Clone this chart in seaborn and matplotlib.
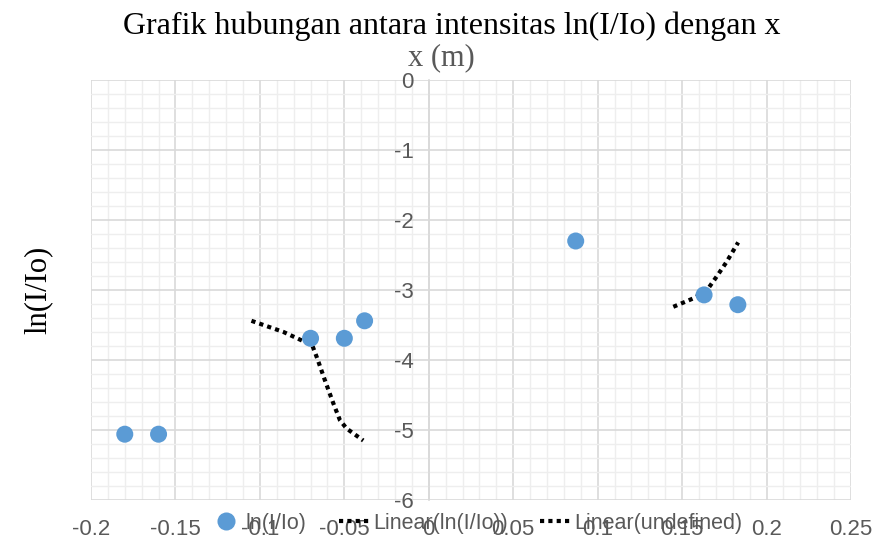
import matplotlib
matplotlib.use("Agg")
import matplotlib.pyplot as plt
import seaborn as sns
import pandas as pd
from matplotlib.ticker import MultipleLocator, FuncFormatter
from matplotlib.lines import Line2D

# data
x_m = [-0.18, -0.16, -0.07, -0.05, -0.038, 0.087, 0.163, 0.183]
ln_i_io = [-5.06, -5.06, -3.69, -3.69, -3.44, -2.30, -3.07, -3.21]

trend1_x = [-0.105, -0.086, -0.069, -0.066, -0.0615, -0.0565, -0.0526, -0.0486, -0.0388]
trend1_y = [-3.44, -3.60, -3.79, -3.98, -4.29, -4.62, -4.86, -4.98, -5.15]

trend2_x = [0.1448, 0.1566, 0.1645, 0.1704, 0.1763, 0.1832]
trend2_y = [-3.24, -3.12, -3.01, -2.81, -2.60, -2.32]

title = "Grafik hubungan antara intensitas ln(I/Io) dengan x"
x_label = "x (m)"
y_label = "ln(I/Io)"
legend_labels = ["ln(I/Io)", "Linear(ln(I/Io))", "Linear(undefined)"]

sns.set_theme(style="white")
plt.rcParams["axes.unicode_minus"] = False
tick_font = ["Liberation Sans", "DejaVu Sans"]
serif_font = ["Liberation Serif", "DejaVu Serif"]

W, H = 877, 546
fig = plt.figure(figsize=(W / 100, H / 100), dpi=100)
fig.patch.set_facecolor("white")
ax = fig.add_axes([91 / W, 1 - 500 / H, 760 / W, 420 / H])
ax.set_facecolor("white")

pts = pd.DataFrame({"x": x_m, "y": ln_i_io})
t1 = pd.DataFrame({"x": trend1_x, "y": trend1_y})
t2 = pd.DataFrame({"x": trend2_x, "y": trend2_y})

blue = "#5b9bd5"
dots = (0, (1, 1))
dot_style = dict(color="black", linewidth=3, linestyle=dots, sort=False,
                 estimator=None, legend=False, zorder=3)
sns.lineplot(data=t1, x="x", y="y", ax=ax, **dot_style)
sns.lineplot(data=t2, x="x", y="y", ax=ax, **dot_style)
sns.scatterplot(data=pts, x="x", y="y", ax=ax, s=150, color=blue, edgecolor="none",
                legend=False, zorder=4)

ax.set_xlim(-0.2, 0.25)
ax.set_ylim(-6, 0)
ax.xaxis.set_major_locator(MultipleLocator(0.05))
ax.xaxis.set_minor_locator(MultipleLocator(0.01))
ax.yaxis.set_major_locator(MultipleLocator(1))
ax.yaxis.set_minor_locator(MultipleLocator(0.2))
ax.grid(which="major", color="#d9d9d9", linewidth=1.2, zorder=0)
ax.grid(which="minor", color="#eeeeee", linewidth=1.0, zorder=0)
ax.set_axisbelow(True)

fmt = FuncFormatter(lambda v, p: "0" if abs(v) < 1e-9 else f"{v:g}")
ax.xaxis.set_major_formatter(fmt)
ax.yaxis.set_major_formatter(fmt)

for s in ["top", "right", "bottom"]:
    ax.spines[s].set_visible(False)
ax.spines["left"].set_position(("data", 0))
ax.spines["left"].set_color("#d9d9d9")
ax.spines["left"].set_linewidth(1.2)

ax.tick_params(axis="y", length=0, pad=11, labelsize=16, labelcolor="#595959")
ax.tick_params(axis="x", length=0, pad=14, labelsize=16, labelcolor="#595959")
for lab in ax.get_xticklabels() + ax.get_yticklabels():
    lab.set_family(tick_font)
ax.set_xlabel("")
ax.set_ylabel("")

fig.text(452 / W, 1 - 26 / H, title, ha="center", va="center", fontsize=23,
         family=serif_font, color="black")
fig.text(441 / W, 1 - 58 / H, x_label, ha="center", va="center", fontsize=22,
         family=serif_font, color="#595959")
fig.text(38 / W, 1 - 290 / H, y_label, ha="center", va="center", rotation=90,
         fontsize=22, family=serif_font, color="black")

handles = [
    Line2D([], [], marker="o", linestyle="none", markersize=13, color=blue, markeredgecolor="none"),
    Line2D([], [], color="black", linewidth=3, linestyle=dots),
    Line2D([], [], color="black", linewidth=3, linestyle=dots),
]
fig.legend(handles, legend_labels, loc="center", bbox_to_anchor=(477 / W, 1 - 523 / H),
           ncol=3, frameon=False, handlelength=1.4, handletextpad=0.2, columnspacing=1.5,
           prop={"family": tick_font, "size": 15.5}, labelcolor="#595959")

fig.savefig("out.png", dpi=100, facecolor="white")
